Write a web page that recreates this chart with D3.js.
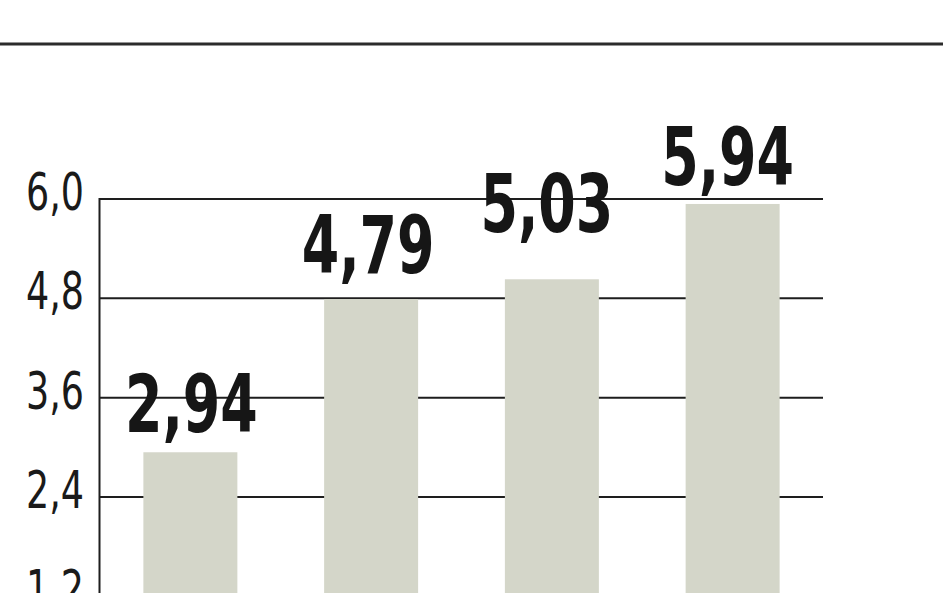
<!DOCTYPE html>
<html>
<head>
<meta charset="utf-8">
<script src="https://cdn.jsdelivr.net/npm/d3@7"></script>
<style>
html,body{margin:0;padding:0;background:#fff;overflow:hidden;}
svg{display:block;}
</style>
</head>
<body>
<svg id="chart" width="948" height="593"></svg>
<script>
const categories = ["A", "B", "C", "D"];
const values = [2.94, 4.79, 5.03, 5.94];
const valueLabels = ["2,94", "4,79", "5,03", "5,94"];
const tickValues = [1.2, 2.4, 3.6, 4.8, 6.0];
const tickLabels = ["1,2", "2,4", "3,6", "4,8", "6,0"];

const svg = d3.select("#chart");
const W = 948, H = 593;

const x = d3.scaleBand().domain(categories).range([100, 823]).paddingInner(0.48).paddingOuter(0.24);
const y = d3.scaleLinear().domain([0, 6]).range([695.6, 199]);

// top rule
svg.append("line").attr("x1", 0).attr("x2", 943).attr("y1", 44).attr("y2", 44)
  .attr("stroke", "#2b2b2b").attr("stroke-width", 3);

// gridlines
svg.append("g").selectAll("line").data(tickValues).join("line")
  .attr("x1", 100).attr("x2", 823)
  .attr("y1", d => y(d)).attr("y2", d => y(d))
  .attr("stroke", "#1e1e1e").attr("stroke-width", 2);

// y axis line
svg.append("line").attr("x1", 99.5).attr("x2", 99.5).attr("y1", y(6) - 1).attr("y2", 700)
  .attr("stroke", "#1e1e1e").attr("stroke-width", 2);

// tick labels
svg.append("g").selectAll("text").data(tickValues).join("text")
  .attr("x", 84).attr("y", d => y(d) + 11)
  .attr("text-anchor", "end")
  .attr("font-family", "'DejaVu Sans Condensed', 'DejaVu Sans', sans-serif")
  .attr("font-size", 51)
  .attr("font-weight", 300)
  .attr("fill", "#1a1a1a")
  .attr("textLength", 58).attr("lengthAdjust", "spacingAndGlyphs")
  .text((d, i) => tickLabels[i]);

// bars
svg.append("g").selectAll("rect").data(values).join("rect")
  .attr("x", (d, i) => x(categories[i]))
  .attr("width", x.bandwidth())
  .attr("y", d => y(d))
  .attr("height", d => y(0) - y(d))
  .attr("fill", "#d4d6c9");

// value labels
const labelLift = [20, 26, 47, 19];
const labelShift = [1, -3, -5, -5];
svg.append("g").selectAll("text").data(values).join("text")
  .attr("x", (d, i) => x(categories[i]) + x.bandwidth() / 2 + labelShift[i])
  .attr("y", (d, i) => y(d) - labelLift[i])
  .attr("text-anchor", "middle")
  .attr("font-family", "'DejaVu Sans Condensed', 'DejaVu Sans', sans-serif")
  .attr("font-size", 81)
  .attr("font-weight", "bold")
  .attr("fill", "#161616")
  .attr("textLength", 133).attr("lengthAdjust", "spacingAndGlyphs")
  .text((d, i) => valueLabels[i]);
</script>
</body>
</html>
